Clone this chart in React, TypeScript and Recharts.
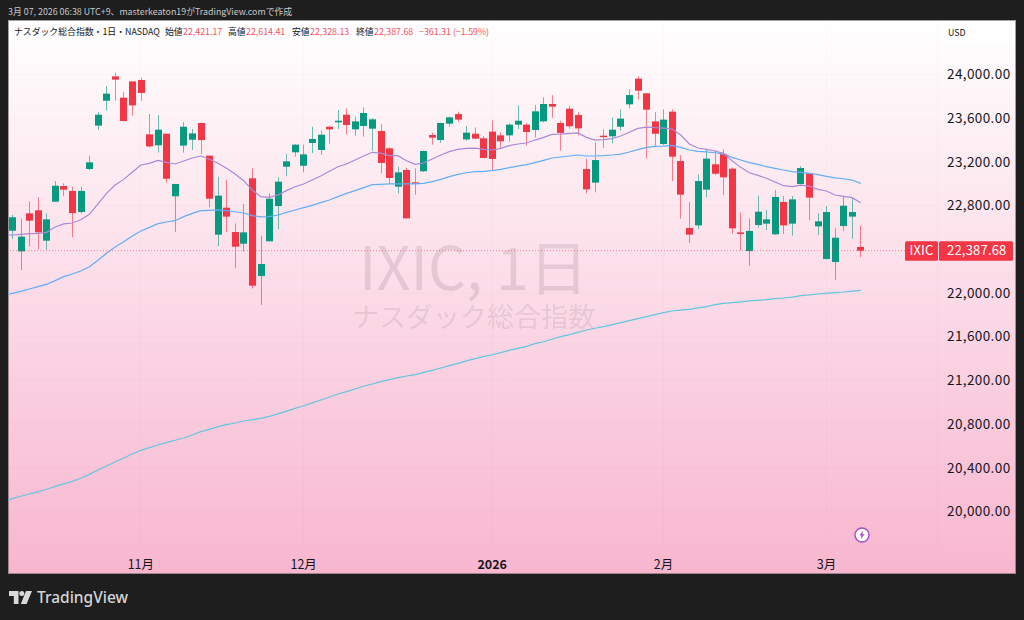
import React from "react";
import { ComposedChart, Bar, Line, XAxis, YAxis, CartesianGrid, ReferenceLine } from "recharts";

const opens = [22570,22381,22729,22757,22479,22836,22979,22934,22741,23135,23532,23760,23983,23788,23937,23950,23452,23352,23458,22885,23349,23403,23556,23257,22534,22781,22558,22451,23050,22156,22473,22796,23156,23288,23165,23373,23309,23522,23562,23632,23498,23529,23504,23483,23324,22973,23126,23013,23114,23446,23400,23550,23638,23406,23458,23416,23477,23443,23443,23541,23541,23492,23571,23730,23556,23687,23629,23135,23010,23440,23434,23522,23727,23962,23828,23571,23364,23660,23208,22595,22619,22946,23178,23272,23138,22555,22384,22622,22635,22537,22833,22635,22998,23095,22610,22311,22284,22613,22699,22421.17];
const highs = [22714,22683,22836,22876,22729,23025,23004,22973,22973,23257,23654,23895,24017,23840,23937,23971,23638,23629,23458,22998,23565,23501,23556,23257,23065,23037,22638,22815,23141,22525,22912,23062,23272,23361,23358,23522,23486,23522,23675,23690,23614,23699,23599,23547,23333,23156,23147,23141,23303,23468,23559,23614,23660,23529,23516,23437,23580,23471,23553,23718,23553,23721,23791,23812,23577,23715,23654,23230,23376,23498,23608,23681,23864,23986,23828,23657,23681,23681,23263,22833,23086,23309,23303,23315,23150,22738,22683,22891,22760,22943,22888,22888,23162,23101,22729,22796,22592,22882,22866,22614.41];
const lows = [22494,22210,22424,22400,22394,22836,22888,22510,22729,23126,23492,23669,23760,23571,23623,23760,23333,23285,23010,22558,23285,23309,23275,22784,22430,22555,22226,22378,22040,21890,22473,22583,23071,23248,23105,23281,23266,23367,23501,23452,23440,23431,23303,23095,23004,22912,22683,22900,23108,23358,23373,23522,23568,23394,23406,23233,23120,23324,23385,23501,23349,23425,23562,23605,23303,23504,23443,22912,22921,23327,23370,23486,23690,23773,23230,23346,23355,23025,22680,22458,22583,22876,23080,22897,22543,22394,22250,22598,22577,22534,22540,22525,22995,22668,22531,22308,22119,22568,22497,22328.13];
const closes = [22693,22516,22662,22555,22674,22982,22946,22732,22934,23196,23632,23825,23953,23574,23718,23831,23342,23495,23046,22998,23522,23461,23400,22863,22891,22699,22424,22555,22067,22265,22863,23019,23205,23358,23269,23410,23449,23498,23577,23538,23571,23648,23590,23190,23053,23104,22683,23004,23300,23422,23556,23608,23587,23468,23413,23236,23227,23388,23541,23577,23474,23663,23730,23706,23465,23526,23507,22949,23217,23431,23495,23596,23812,23852,23678,23458,23587,23248,22900,22534,23025,23230,23092,23059,22592,22540,22568,22744,22674,22879,22619,22857,23144,22873,22656,22741,22506,22799,22741,22387.68];

// The first value of each average belongs to the session just left of the visible window.
const ma20 = [22528,22531,22537,22543,22546,22555,22604,22632,22641,22671,22720,22815,22912,22988,23040,23105,23172,23187,23214,23196,23181,23208,23236,23254,23224,23187,23141,23089,23028,22943,22882,22876,22897,22937,22973,22998,23034,23071,23114,23156,23181,23217,23254,23288,23281,23257,23257,23211,23178,23190,23227,23263,23294,23315,23324,23327,23315,23309,23324,23349,23364,23373,23400,23425,23452,23455,23461,23465,23425,23400,23404,23413,23437,23471,23507,23519,23513,23510,23501,23446,23364,23327,23315,23300,23278,23211,23150,23101,23077,23050,23016,22982,22973,22988,22979,22949,22934,22897,22885,22873,22827];
const ma50 = [21976,21997,22015,22037,22058,22079,22113,22150,22174,22201,22241,22299,22363,22421,22470,22522,22568,22601,22635,22650,22662,22699,22729,22754,22757,22760,22754,22744,22732,22708,22696,22699,22714,22738,22760,22781,22802,22827,22851,22882,22912,22937,22964,22992,22995,22998,22998,22998,22998,23004,23019,23040,23065,23086,23101,23111,23114,23120,23132,23147,23162,23175,23193,23214,23236,23245,23254,23263,23254,23254,23257,23263,23272,23291,23312,23333,23342,23345,23352,23333,23309,23297,23291,23284,23272,23242,23217,23193,23178,23156,23141,23126,23111,23104,23095,23083,23068,23053,23046,23034,23004];
const ma200 = [20090,20118,20139,20160,20179,20203,20230,20252,20276,20304,20340,20380,20417,20453,20490,20526,20560,20584,20609,20633,20652,20673,20700,20731,20752,20777,20795,20810,20828,20841,20853,20871,20893,20918,20944,20968,20994,21020,21046,21075,21097,21121,21146,21167,21188,21207,21225,21240,21252,21274,21292,21313,21335,21356,21378,21399,21417,21435,21454,21475,21493,21512,21536,21554,21579,21600,21619,21640,21661,21677,21692,21710,21728,21747,21765,21783,21802,21820,21835,21844,21850,21863,21875,21893,21905,21911,21918,21927,21933,21939,21948,21954,21963,21976,21982,21991,21997,22003,22009,22018,22024];

const priceTicks = [20000,20400,20800,21200,21600,22000,22800,23200,23600,24000];
const monthTicks = [15,34,56,76,95];
const monthLabels = ["11月","12月","2026","2月","3月"];
const lastPrice = 22387.68;
const symbol = "IXIC";

const FONT = '"Noto Sans CJK JP", "Noto Sans", sans-serif';
const RED = "#f23645";
const GREEN = "#089981";

const rows = ma20.map((m, k) => {
  const c = k - 1;
  return {
    i: c,
    range: c >= 0 ? [lows[c], highs[c]] : null,
    open: c >= 0 ? opens[c] : null,
    close: c >= 0 ? closes[c] : null,
    ma20: m,
    ma50: ma50[k],
    ma200: ma200[k],
  };
});

function Candle(props: any) {
  const { x, y, width, height, payload } = props;
  if (!payload || payload.open == null || !Array.isArray(payload.range)) return null;
  const [lo, hi] = payload.range;
  const span = hi - lo || 1;
  const py = (v: number) => y + ((hi - v) / span) * height;
  const up = payload.close >= payload.open;
  const color = up ? GREEN : RED;
  const top = py(Math.max(payload.open, payload.close));
  const bottom = py(Math.min(payload.open, payload.close));
  const cx = Math.floor(x + width / 2) + 0.5;
  const left = Math.round(cx - width / 2);
  return (
    <g>
      <line x1={cx} x2={cx} y1={y} y2={y + height} stroke={color} strokeOpacity={0.6} strokeWidth={1} />
      <rect x={left} y={top} width={width} height={Math.max(bottom - top, 1.5)} fill={color} />
    </g>
  );
}

function PriceTag(props: any) {
  const vb = props.viewBox;
  if (!vb) return null;
  const y = vb.y;
  const right = vb.x + vb.width;
  return (
    <g fontFamily={FONT} fontSize={13} fill="#fff" letterSpacing={0.2}>
      <rect x={right - 33} y={y - 9.5} width={33} height={19.5} rx={1.5} fill={RED} />
      <rect x={right + 1} y={y - 9.5} width={74} height={19.5} rx={1.5} fill={RED} />
      <text x={right - 16.5} y={y + 4.7} textAnchor="middle">{symbol}</text>
      <text x={right + 9} y={y + 4.7}>{lastPrice.toLocaleString("en-US")}</text>
    </g>
  );
}

function MonthTick(props: any) {
  const { x, y, payload, index } = props;
  const label = monthLabels[index ?? monthTicks.indexOf(payload.value)];
  return (
    <text x={x} y={y + 17} textAnchor="middle" fontFamily={FONT} fontSize={12.5} fill="#131722" fontWeight={label === "2026" ? 700 : 400}>
      {label}
    </text>
  );
}

const abs = (x: number, y: number, extra: React.CSSProperties = {}): React.CSSProperties => ({
  position: "absolute",
  left: x,
  top: y,
  whiteSpace: "nowrap",
  fontFamily: FONT,
  ...extra,
});

const LEGEND_SIZE = 8.85;
const legendItems: [number, string, number, string][] = [
  [165, "始値", 183, "22,421.17"],
  [228, "高値", 246, "22,614.41"],
  [292, "安値", 310, "22,328.13"],
  [356, "終値", 374, "22,387.68"],
];

export default function App() {
  return (
    <div style={{ position: "absolute", left: 0, top: 0, width: 1024, height: 620, background: "#1e1e1e", overflow: "hidden" }}>
      <div style={abs(8, 5, { fontSize: LEGEND_SIZE, lineHeight: "13px", color: "#c8c8c8" })}>
        3月 07, 2026 06:38 UTC+9、masterkeaton19がTradingView.comで作成
      </div>

      <div style={{ position: "absolute", left: 8, top: 20, width: 1008, height: 554, background: "linear-gradient(180deg, #ffffff 0%, #f8b6cf 100%)", boxShadow: "inset 0 0 0 1px rgba(90,90,90,0.55)" }} />

      <div style={abs(359, 224, { fontSize: 59.5, lineHeight: "80px", color: "rgba(40,30,40,0.11)" })}>IXIC, 1日</div>
      <div style={abs(352, 296, { fontSize: 27, lineHeight: "40px", color: "rgba(40,30,40,0.11)" })}>ナスダック総合指数</div>

      <div style={abs(14, 25, { fontSize: LEGEND_SIZE, lineHeight: "14px", color: "#131722" })}>ナスダック総合指数・1日・NASDAQ</div>
      {legendItems.map(([lx, name, vx, value]) => (
        <React.Fragment key={name}>
          <div style={abs(lx, 25, { fontSize: LEGEND_SIZE, lineHeight: "14px", color: "#131722" })}>{name}</div>
          <div style={abs(vx, 25, { fontSize: LEGEND_SIZE, lineHeight: "14px", color: "#f4525f" })}>{value}</div>
        </React.Fragment>
      ))}
      <div style={abs(419, 25, { fontSize: LEGEND_SIZE, lineHeight: "14px", color: "#f4525f" })}>−361.31 (−1.59%)</div>

      <div style={{ position: "absolute", left: 942, top: 24, width: 72, height: 19, background: "#fff", borderRadius: 3 }} />
      <div style={abs(948, 26, { fontSize: LEGEND_SIZE, lineHeight: "14px", color: "#131722" })}>USD</div>

      <ComposedChart
        width={1024}
        height={620}
        data={rows}
        margin={{ top: 20, right: 8, bottom: 46, left: 8 }}
        style={{ position: "absolute", left: 0, top: 0 }}
      >
        <CartesianGrid stroke="#000" strokeOpacity={0.02} />
        <XAxis
          dataKey="i"
          type="number"
          domain={[-0.5, 108.02]}
          allowDataOverflow
          ticks={monthTicks}
          interval={0}
          height={28}
          axisLine={false}
          tickLine={false}
          tickMargin={0}
          tick={<MonthTick />}
        />
        <YAxis
          orientation="right"
          type="number"
          domain={[19684, 24499]}
          allowDataOverflow
          ticks={priceTicks}
          interval={0}
          width={78}
          axisLine={false}
          tickLine={false}
          tickMargin={3}
          tick={{ fontFamily: FONT, fontSize: 13.5, fill: "#131722", textAnchor: "start", letterSpacing: 0.4 }}
          tickFormatter={(v: number) => v.toLocaleString("en-US", { minimumFractionDigits: 2, maximumFractionDigits: 2 })}
        />
        <ReferenceLine y={lastPrice} stroke={RED} strokeOpacity={0.55} strokeDasharray="1 2" strokeWidth={1} label={<PriceTag />} />
        <Bar dataKey="range" barSize={7} shape={<Candle />} isAnimationActive={false} />
        <Line dataKey="ma200" type="linear" stroke="#62c6e0" strokeWidth={1.2} dot={false} activeDot={false} isAnimationActive={false} />
        <Line dataKey="ma50" type="linear" stroke="#62aef5" strokeWidth={1.2} dot={false} activeDot={false} isAnimationActive={false} />
        <Line dataKey="ma20" type="linear" stroke="#a98ad8" strokeWidth={1.2} dot={false} activeDot={false} isAnimationActive={false} />
      </ComposedChart>

      <svg width={16} height={16} viewBox="0 0 16 16" style={{ position: "absolute", left: 854, top: 527 }}>
        <circle cx={8} cy={8} r={7} fill="#fff" stroke="#a24fc9" strokeWidth={1.4} />
        <path d="M9.2 3.6 L5.4 8.6 H7.6 L6.8 12.2 L10.6 7.2 H8.4 Z" fill="#a24fc9" />
      </svg>

      <svg width={24} height={14} viewBox="0 0 24 14" style={{ position: "absolute", left: 9, top: 591 }}>
        <path d="M0 0 H9.5 V13 H4.8 V5 H0 Z" fill="#d9d9d9" />
        <circle cx={12.8} cy={2.5} r={2.5} fill="#d9d9d9" />
        <path d="M17 0 H23 L17.6 13 H11.8 Z" fill="#d9d9d9" />
      </svg>
      <div style={abs(37, 585, { fontSize: 15.5, lineHeight: "24px", fontWeight: 500, color: "#d5d5d5", fontFamily: '"Noto Sans", sans-serif' })}>TradingView</div>
    </div>
  );
}
